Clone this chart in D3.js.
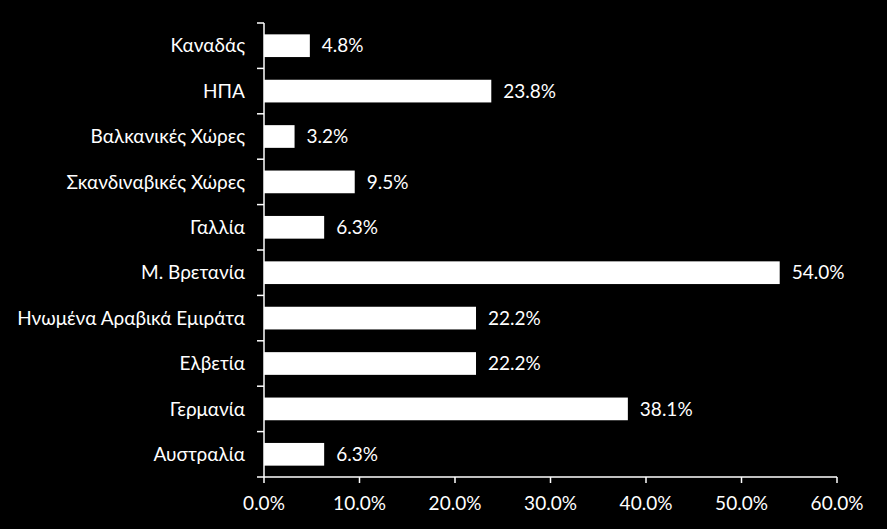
<!DOCTYPE html>
<html><head><meta charset="utf-8">
<script src="https://cdn.jsdelivr.net/npm/d3@7"></script>
<style>body{margin:0;background:#000;}svg{display:block;}</style>
</head><body>
<script>
const categories = ["Καναδάς","ΗΠΑ","Βαλκανικές Χώρες","Σκανδιναβικές Χώρες","Γαλλία","Μ. Βρετανία","Ηνωμένα Αραβικά Εμιράτα","Ελβετία","Γερμανία","Αυστραλία"];
const values = [4.8,23.8,3.2,9.5,6.3,54.0,22.2,22.2,38.1,6.3];
const xTicks = [0,10,20,30,40,50,60];

const W=887,H=529;
const svg=d3.select("body").append("svg").attr("width",W).attr("height",H).style("background","#000");
const font="Lato, 'Open Sans', sans-serif";
const fs="19px";
const x=d3.scaleLinear().domain([0,60]).range([264,837]);
const y=d3.scaleBand().domain(categories).range([23,477]).paddingInner(0.5).paddingOuter(0.25);
const yAxisScale=d3.scaleBand().domain(categories).range([23,477]);

svg.selectAll("rect.bar").data(values).join("rect")
  .attr("x",x(0)).attr("y",(d,i)=>y(categories[i]))
  .attr("width",d=>x(d)-x(0)).attr("height",y.bandwidth()).attr("fill","#fff");

svg.selectAll("text.val").data(values).join("text")
  .attr("x",d=>x(d)+12).attr("y",(d,i)=>y(categories[i])+y.bandwidth()/2)
  .attr("dy","0.35em").attr("fill","#fff").style("font-family",font).style("font-size",fs)
  .text(d=>d.toFixed(1)+"%");

// y axis
const yg=svg.append("g");
yg.append("line").attr("x1",264).attr("x2",264).attr("y1",23).attr("y2",477).attr("stroke","#fff").attr("stroke-width",1.5);
const yTickPos=categories.map(c=>yAxisScale(c)).concat([477]);
yg.selectAll("line.t").data(yTickPos).join("line").attr("x1",257).attr("x2",264).attr("y1",d=>d).attr("y2",d=>d).attr("stroke","#fff").attr("stroke-width",1.5);
yg.selectAll("text").data(categories).join("text")
  .attr("x",245).attr("y",d=>yAxisScale(d)+yAxisScale.bandwidth()/2).attr("dy","0.35em")
  .attr("text-anchor","end").attr("fill","#fff").style("font-family",font).style("font-size",fs).text(d=>d);

// x axis
const xg=svg.append("g");
xg.append("line").attr("x1",264).attr("x2",837).attr("y1",477).attr("y2",477).attr("stroke","#fff").attr("stroke-width",1.5);
xg.selectAll("line.t").data(xTicks).join("line").attr("x1",d=>x(d)).attr("x2",d=>x(d)).attr("y1",477).attr("y2",483).attr("stroke","#fff").attr("stroke-width",1.5);
xg.selectAll("text").data(xTicks).join("text")
  .attr("x",d=>x(d)).attr("y",503).attr("dy","0.35em").attr("text-anchor","middle")
  .attr("fill","#fff").style("font-family",font).style("font-size",fs).text(d=>d.toFixed(1)+"%");
</script>
</body></html>
